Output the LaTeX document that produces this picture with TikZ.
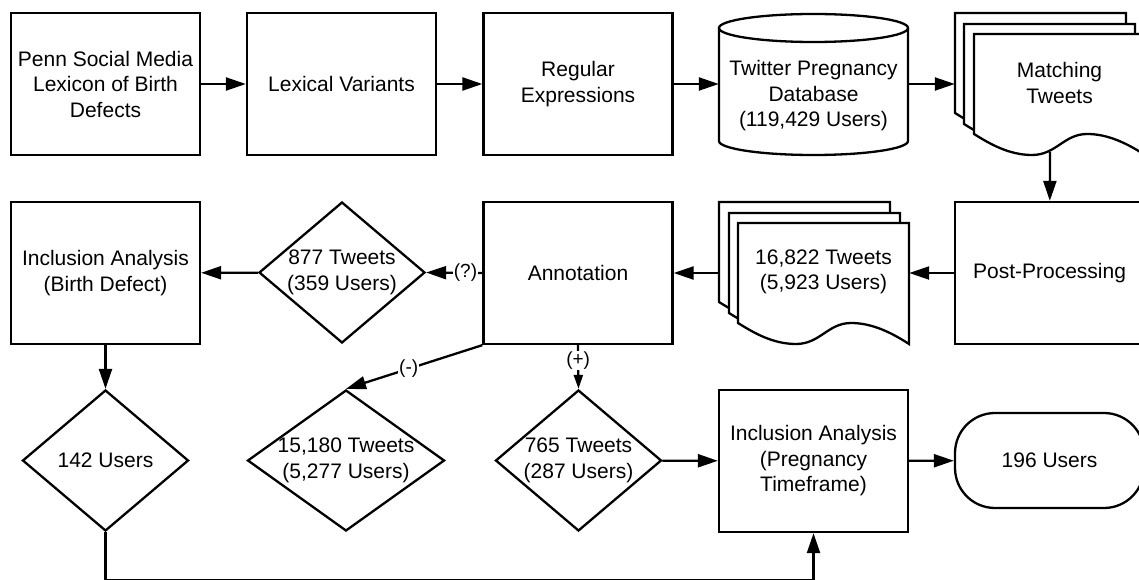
\documentclass[tikz,border=0pt]{standalone}
\usepackage{fontspec}
\setmainfont{Liberation Sans}
\usepackage{tikz}
\usetikzlibrary{shapes.geometric}
\usetikzlibrary{arrows.meta}

\tikzset{
  shapeline/.style={line width=2.3pt},
  procbox/.style={draw, shapeline, fill=white, minimum width=189pt,
    minimum height=142pt, inner sep=0pt, align=center,
    font=\fontsize{21}{25.5}\selectfont},
  area/.style={inner sep=0pt, minimum width=190pt, minimum height=142pt},
  decision/.style={draw, diamond, shapeline, fill=white, inner sep=0pt,
    minimum width=166pt, minimum height=141pt},
  terminal/.style={procbox, minimum height=95pt, rounded corners=40pt},
  txt/.style={align=center, inner sep=0pt, font=\fontsize{21}{25.5}\selectfont},
  page/.style={draw, shapeline, fill=white},
  flow/.style={shapeline, -{Triangle[length=20pt, width=13pt]}},
  smallflow/.style={shapeline, -{Triangle[length=14pt, width=9pt]}},
  flowlabel/.style={fill=white, inner sep=1pt, font=\fontsize{19}{22}\selectfont}
}

\newcommand{\tweetpage}[2]{%
\draw[page] (#1,#2) -- ({#1+171},#2) -- ({#1+171},{#2+121})
  .. controls ({#1+148},{#2+106}) and ({#1+130},{#2+100}) .. ({#1+113},{#2+100})
  .. controls ({#1+90},{#2+100}) and ({#1+82},{#2+121}) .. ({#1+58},{#2+121})
  .. controls ({#1+35},{#2+121}) and ({#1+16},{#2+110}) .. (#1,{#2+100}) -- cycle;}

\begin{document}
\begin{tikzpicture}[x=1pt,y=-1pt]
\useasboundingbox (0,0) rectangle (1139,580);
\fill[white] (0,0) rectangle (1139,580);

\node[procbox] (lexicon) at (105.5,84) {Penn Social Media\\Lexicon of Birth\\Defects};
\node[procbox] (variants) at (341.5,84) {Lexical Variants};
\node[procbox] (regex) at (578,84) {Regular\\Expressions};

\draw[shapeline] (719,28) -- (719,141)
  arc[start angle=180, end angle=360, x radius=94.5pt, y radius=14pt] -- (908,28);
\draw[shapeline] (813.5,28) ellipse[x radius=94.5pt, y radius=14pt];
\node[area, minimum width=189pt] (tpdb) at (813.5,84) {};
\node[txt] at (813.5,96) {Twitter Pregnancy\\Database\\(119,429 Users)};

\tweetpage{955}{13}
\tweetpage{964}{24}
\tweetpage{974}{34}
\node[area] (matching) at (1050,84) {};
\node[txt] at (1059.5,83) {Matching\\Tweets};
\coordinate (mtwave) at (1050,152);

\node[procbox] (inclbd) at (105.5,273) {Inclusion Analysis\\(Birth Defect)};
\node[decision, label={[txt]center:877 Tweets\\(359 Users)}] (unsure) at (342,272.5) {};
\node[procbox] (annot) at (578,273) {Annotation};

\tweetpage{719}{202}
\tweetpage{729}{213}
\tweetpage{738}{223}
\node[area] (tweets) at (814,273) {};
\node[txt] at (823.5,272) {16,822 Tweets\\(5,923 Users)};

\node[procbox] (postproc) at (1049.5,273) {Post-Processing};

\node[decision, label={[txt]center:142 Users}] (users142) at (105.5,460.5) {};
\node[decision, minimum width=197pt,
  label={[txt]center:15,180 Tweets\\(5,277 Users)}] (neg) at (346,460.5) {};
\node[decision, label={[txt]center:765 Tweets\\(287 Users)}] (pos) at (578.5,460.5) {};
\node[procbox] (inclpt) at (813.5,461) {Inclusion Analysis\\(Pregnancy\\Timeframe)};
\node[terminal] (users196) at (1049.5,460.5) {196 Users};

\draw[flow] (lexicon) -- (variants);
\draw[flow] (variants) -- (regex);
\draw[flow] (regex) -- (tpdb);
\draw[flow] (tpdb) -- (matching);
\draw[flow] (mtwave) -- (postproc);
\draw[flow] (postproc) -- (tweets);
\draw[flow] (tweets) -- (annot);
\draw[flow] (annot.west) -- node[flowlabel, pos=0.3] {(?)} (unsure.east);
\draw[flow] (unsure) -- (inclbd);
\draw[flow] (inclbd) -- (users142);
\draw[flow] (annot.south west) -- node[flowlabel, pos=0.54] {(-)} (neg.north);
\draw[smallflow] (annot.south) -- node[flowlabel, pos=0.35] {(+)} (pos.north);
\draw[flow] (pos) -- (inclpt);
\draw[flow] (inclpt) -- (users196);
\draw[flow] (users142.south) -- ++(0,47.5) -| (inclpt.south);
\end{tikzpicture}
\end{document}
